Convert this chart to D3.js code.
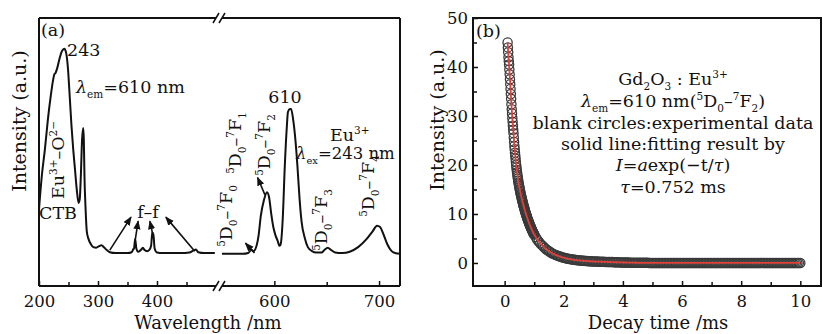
<!DOCTYPE html>
<html>
<head>
<meta charset="utf-8">
<script src="https://cdn.jsdelivr.net/npm/d3@7"></script>
<style>
  body { margin: 0; background: #fff; }
  svg { font-family: 'DejaVu Serif', serif; }
</style>
</head>
<body>
<div id="chart"></div>
<script>
// (a) excitation spectrum, lambda_em = 610 nm
const excWavelength = [200, 205, 210, 215, 220, 224, 226, 228, 231, 235, 239, 243, 246, 249, 252, 255, 258, 261, 264, 267,
  269, 271, 273, 275, 276, 277, 279, 281, 284, 288, 292, 297, 302, 306, 310, 315, 320, 330, 340, 350,
  357, 360, 361, 363, 365, 368, 373, 376, 379, 383, 387, 390, 392, 394, 396, 400, 410, 420, 440, 455,
  462, 466, 470, 480, 490, 498];
const excIntensity = [28.6, 41.6, 51, 62, 71, 77, 79, 79.5, 81.4, 85, 87.7, 88.5, 87, 81.4, 71, 60, 51, 43.5, 36, 31,
  32.3, 41.6, 54.6, 59, 54.6, 41.6, 28.6, 20.4, 17.5, 15.6, 14.5, 14.3, 14.9, 15.2, 14.5, 13.4, 12.6, 12.3, 12.3, 12.3,
  12.6, 13.8, 14, 17.5, 14, 12.8, 13.5, 14.3, 13.4, 13, 13.5, 15, 20, 19, 14, 12.5, 12.3, 12.3, 12.3, 12.5,
  13.3, 13.6, 12.6, 12.3, 12.3, 12.3];

// (a) emission spectrum, lambda_ex = 243 nm
const emWavelength = [550, 560, 570, 575, 578, 580, 583, 585, 587, 590, 593, 595, 597, 599, 601, 603, 605, 606,
  608, 610, 612, 613, 615, 616, 618, 620, 622, 624, 626, 629, 632, 636,
  640, 645, 648, 651, 654, 658, 665, 672, 680, 688, 694, 698, 701, 704, 708, 712, 716, 720];
const emIntensity = [12, 12, 12, 12.3, 13.5, 13, 15, 19, 26, 32, 35, 33, 27, 22, 19, 17, 15, 15.5,
  25, 45, 60, 65, 66, 66, 62, 55, 45, 33, 24, 18, 14.5, 13,
  12.5, 12.5, 13.5, 14.3, 13.5, 12.5, 12.3, 12.8, 14.5, 17.5, 20.5, 22.5, 22, 19.5, 15.5, 13, 12.2, 12];

// (a) axis ticks
const leftMajorTicks = [200, 300, 400];
const leftMinorTicks = [250, 350, 450];
const rightMajorTicks = [600, 700];
const rightMinorTicks = [650];

// (a) arrows [from nm, from I, to nm, to I]
const ffArrows = [[320, 13.4, 356, 25.7], [363, 17, 368, 24.2], [393, 19, 388, 24.2], [464, 13, 415, 25.7]];
const emArrows = [[581, 12.3, 572.4, 16], [591, 34, 584, 40.5]];

// (b) decay curve: 0.10-1.00 ms every 0.01 ms, then 1.05-10.00 ms every 0.05 ms
const decayEarly = [
  45.0, 44.0, 43.0, 42.0, 41.2, 40.5, 39.5, 38.5, 37.5, 36.5,
  35.5, 34.5, 33.5, 32.4, 31.4, 30.5, 29.6, 28.8, 28.0, 27.2,
  26.5, 25.6, 24.7, 23.9, 23.2, 22.5, 21.9, 21.3, 20.6, 20.0,
  19.5, 19.0, 18.5, 18.0, 17.6, 17.2, 16.8, 16.4, 16.1, 15.7,
  15.4, 15.1, 14.8, 14.5, 14.2, 13.9, 13.6, 13.4, 13.1, 12.9,
  12.6, 12.4, 12.2, 11.9, 11.7, 11.5, 11.3, 11.1, 10.8, 10.6,
  10.4, 10.2, 10.0, 9.8, 9.7, 9.5, 9.3, 9.1, 8.9, 8.8,
  8.6, 8.4, 8.3, 8.1, 7.9, 7.8, 7.6, 7.5, 7.4, 7.2,
  7.1, 6.9, 6.8, 6.7, 6.5, 6.4, 6.3, 6.1, 6.0, 5.9,
  5.8];
const decayLate = [
  5.3, 4.8, 4.4, 4.0, 3.7, 3.4, 3.1, 2.8, 2.6, 2.4,
  2.2, 2.0, 1.85, 1.7, 1.6, 1.45, 1.35, 1.25, 1.15, 1.05,
  1.0, 0.9, 0.85, 0.8, 0.75, 0.7, 0.65, 0.6, 0.58, 0.55,
  0.5, 0.48, 0.45, 0.43, 0.4, 0.38, 0.36, 0.35, 0.33, 0.3,
  0.3, 0.28, 0.28, 0.26, 0.25, 0.25, 0.24, 0.22, 0.22, 0.2,
  0.2, 0.18, 0.18, 0.16, 0.15, 0.15, 0.14, 0.12, 0.12, 0.1,
  0.1, 0.1, 0.08, 0.08, 0.07, 0.06, 0.06, 0.05, 0.05, 0.04,
  0.04, 0.03, 0.03, 0.03, 0.02, 0.02, 0.02, 0.01, 0.01, 0.01,
  0, 0, 0, 0, 0, 0, 0, 0, 0, 0,
  0, 0, 0, 0, 0, 0, 0, 0, 0, 0,
  0, 0, 0, 0, 0, 0, 0, 0, 0, 0,
  0, 0, 0, 0, 0, 0, 0, 0, 0, 0,
  0, 0, 0, 0, 0, 0, 0, 0, 0, 0,
  0, 0, 0, 0, 0, 0, 0, 0, 0, 0,
  0, 0, 0, 0, 0, 0, 0, 0, 0, 0,
  0, 0, 0, 0, 0, 0, 0, 0, 0, 0,
  0, 0, 0, 0, 0, 0, 0, 0, 0, 0,
  0, 0, 0, 0, 0, 0, 0, 0, 0, 0];
const decayTime = decayEarly.map((_, i) => +(0.10 + i * 0.01).toFixed(2))
  .concat(decayLate.map((_, i) => +(1.05 + i * 0.05).toFixed(2)));
const decayIntensity = decayEarly.concat(decayLate);

const bMajorX = [0, 2, 4, 6, 8, 10];
const bMinorX = [1, 3, 5, 7, 9];
const bMajorY = [0, 10, 20, 30, 40, 50];
const bMinorY = [5, 15, 25, 35, 45];

const W = 823, H = 334;
const FS = 17.5;
const svg = d3.select('#chart').append('svg')
  .attr('width', W)
  .attr('height', H);

svg.append('defs').append('marker')
  .attr('id', 'head')
  .attr('viewBox', '0 0 10 10')
  .attr('refX', 9).attr('refY', 5)
  .attr('markerWidth', 9).attr('markerHeight', 9)
  .attr('markerUnits', 'userSpaceOnUse')
  .attr('orient', 'auto')
  .append('path')
  .attr('d', 'M0,1 L10,5 L0,9 Z')
  .attr('fill', '#111');

// rich text with sub / superscripts
function rich(sel, parts, fs) {
  let shift = 0;
  parts.forEach(([s, kind]) => {
    const t = sel.append('tspan').text(s);
    let target = 0, size = fs;
    if (kind === 'sub') { target = fs * 0.28; size = fs * 0.6; }
    if (kind === 'sup') { target = -fs * 0.4; size = fs * 0.6; }
    if (kind === 'i') t.attr('font-style', 'italic');
    t.attr('dy', target - shift).attr('font-size', size);
    shift = target;
  });
  return sel;
}

function label(g, x, y, parts, opts = {}) {
  const fs = opts.fs || FS;
  const t = g.append('text')
    .attr('fill', '#111')
    .attr('font-size', fs)
    .attr('text-anchor', opts.anchor || 'start');
  if (opts.rotate) {
    t.attr('transform', `translate(${x},${y}) rotate(-90)`).attr('dy', '0.36em');
  } else {
    t.attr('x', x).attr('y', y);
  }
  if (typeof parts === 'string') t.text(parts);
  else rich(t, parts, fs);
  return t;
}

// ---------------- panel (a) ----------------
const a = svg.append('g');
const aTop = 18, aBottom = 286, aLeft = 39, aRight = 400;
const breakX = 219;

const xL = d3.scaleLinear().domain([200, 500]).range([aLeft, 216]);
const xR = d3.scaleLinear().domain([550, 720]).range([222, aRight]);
const yA = d3.scaleLinear().domain([0, 100]).range([aBottom, aTop]);

const specLine = (xs) => d3.line()
  .x(d => xs(d[0]))
  .y(d => yA(d[1]))
  .curve(d3.curveMonotoneX);

a.append('path')
  .datum(excWavelength.map((w, i) => [w, excIntensity[i]]))
  .attr('fill', 'none')
  .attr('stroke', '#111')
  .attr('stroke-width', 2)
  .attr('stroke-linejoin', 'round')
  .attr('d', specLine(xL));

a.append('path')
  .datum(emWavelength.map((w, i) => [w, emIntensity[i]]))
  .attr('fill', 'none')
  .attr('stroke', '#111')
  .attr('stroke-width', 2)
  .attr('stroke-linejoin', 'round')
  .attr('d', specLine(xR));

// axes with inward ticks
function tickAxis(scale, values, size, withLabels) {
  const ax = d3.axisBottom(scale)
    .tickValues(values)
    .tickSize(-size)
    .tickPadding(9);
  if (!withLabels) ax.tickFormat('');
  const g = a.append('g')
    .attr('transform', `translate(0,${aBottom})`)
    .call(ax);
  g.select('.domain').remove();
  g.selectAll('line').attr('stroke', '#111').attr('stroke-width', 1.5);
  g.selectAll('text').attr('font-family', 'DejaVu Serif').attr('font-size', 16.5).attr('fill', '#111');
  return g;
}
tickAxis(xL, leftMajorTicks, 5, true);
tickAxis(xL, leftMinorTicks, 4, false);
tickAxis(xR, rightMajorTicks, 5, true);
tickAxis(xR, rightMinorTicks, 4, false);

// frame with axis break
const frame = a.append('g').attr('stroke', '#111').attr('stroke-width', 2).attr('fill', 'none');
frame.append('line').attr('x1', aLeft).attr('x2', aLeft).attr('y1', aTop).attr('y2', aBottom);
frame.append('line').attr('x1', aRight).attr('x2', aRight).attr('y1', aTop).attr('y2', aBottom);
[aTop, aBottom].forEach(y => {
  frame.append('line').attr('x1', aLeft).attr('x2', breakX - 3).attr('y1', y).attr('y2', y);
  frame.append('line').attr('x1', breakX + 3).attr('x2', aRight).attr('y1', y).attr('y2', y);
  [-3, 3].forEach(dx => {
    frame.append('line')
      .attr('stroke-width', 1.5)
      .attr('x1', breakX + dx - 3).attr('y1', y + 5)
      .attr('x2', breakX + dx + 3).attr('y2', y - 5);
  });
});

// arrows
ffArrows.forEach(d => {
  a.append('line')
    .attr('x1', xL(d[0])).attr('y1', yA(d[1]))
    .attr('x2', xL(d[2])).attr('y2', yA(d[3]))
    .attr('stroke', '#111').attr('stroke-width', 1.6)
    .attr('marker-end', 'url(#head)');
});
emArrows.forEach(d => {
  a.append('line')
    .attr('x1', xR(d[0])).attr('y1', yA(d[1]))
    .attr('x2', xR(d[2])).attr('y2', yA(d[3]))
    .attr('stroke', '#111').attr('stroke-width', 1.6)
    .attr('marker-end', 'url(#head)');
});

// annotations
label(a, 41, 36, '(a)');
label(a, 67, 56, '243');
label(a, 76, 93, [['λ', 'i'], ['em', 'sub'], ['=610 nm', 'n']]);
label(a, 64, 160, [['Eu', 'n'], ['3+', 'sup'], ['–O', 'n'], ['2−', 'sup']], { rotate: true, anchor: 'middle' });
label(a, 39, 219, 'CTB');
label(a, 148, 218, 'f–f', { anchor: 'middle' });
label(a, 285, 103, '610', { anchor: 'middle' });
label(a, 330, 141, [['Eu', 'n'], ['3+', 'sup']]);
label(a, 296, 159, [['λ', 'i'], ['ex', 'sub'], ['=243 nm', 'n']], { fs: 16.5 });

const trans = (n) => [['5', 'sup'], ['D', 'n'], ['0', 'sub'], ['–', 'n'], ['7', 'sup'], ['F', 'n'], [String(n), 'sub']];
label(a, 232, 216, trans(0), { rotate: true, anchor: 'middle' });
label(a, 241, 143, trans(1), { rotate: true, anchor: 'middle' });
label(a, 270, 145, trans(2), { rotate: true, anchor: 'middle' });
label(a, 327, 220, trans(3), { rotate: true, anchor: 'middle' });
label(a, 374, 186, trans(4), { rotate: true, anchor: 'middle' });

label(a, 19, 121, 'Intensity (a.u.)', { rotate: true, anchor: 'middle', fs: 19 });
label(a, 208, 329, 'Wavelength /nm', { anchor: 'middle', fs: 18 });

// ---------------- panel (b) ----------------
const b = svg.append('g');
const bTop = 18, bBottom = 286, bLeft = 473, bRight = 821;
const xB = d3.scaleLinear().domain([-1.07, 10.7]).range([bLeft, bRight]);
const yB = d3.scaleLinear().domain([-4.7, 50]).range([bBottom, bTop]);

function bAxis(axis, values, size, withLabels, transform) {
  axis.tickValues(values).tickSize(-size).tickPadding(withLabels ? 9 : 0);
  if (!withLabels) axis.tickFormat('');
  const g = b.append('g').attr('transform', transform).call(axis);
  g.select('.domain').remove();
  g.selectAll('line').attr('stroke', '#111').attr('stroke-width', 1.5);
  g.selectAll('text').attr('font-family', 'DejaVu Serif').attr('font-size', 16.5).attr('fill', '#111');
  return g;
}
bAxis(d3.axisBottom(xB), bMajorX, 5, true, `translate(0,${bBottom})`);
bAxis(d3.axisBottom(xB), bMinorX, 4, false, `translate(0,${bBottom})`);
const yAx = bAxis(d3.axisLeft(yB), bMajorY, 5, true, `translate(${bLeft},0)`);
yAx.selectAll('text').attr('x', -5);
bAxis(d3.axisLeft(yB), bMinorY, 4, false, `translate(${bLeft},0)`);

const decay = decayTime.map((t, i) => [t, decayIntensity[i]]);

// blank circles: experimental data
b.append('g')
  .selectAll('circle')
  .data(decay)
  .join('circle')
  .attr('cx', d => xB(d[0]))
  .attr('cy', d => yB(d[1]))
  .attr('r', 4.6)
  .attr('fill', 'none')
  .attr('stroke', '#3a3a3a')
  .attr('stroke-width', 1.3);

// solid line: fitting result
b.append('path')
  .datum(decay)
  .attr('fill', 'none')
  .attr('stroke', '#e0403a')
  .attr('stroke-width', 1.8)
  .attr('d', d3.line().x(d => xB(d[0])).y(d => yB(d[1])).curve(d3.curveMonotoneX));

b.append('rect')
  .attr('x', bLeft).attr('y', bTop)
  .attr('width', bRight - bLeft).attr('height', bBottom - bTop)
  .attr('fill', 'none').attr('stroke', '#111').attr('stroke-width', 2);

label(b, 476, 37, '(b)');
const cx = 673;
label(b, cx, 85, [['Gd', 'n'], ['2', 'sub'], ['O', 'n'], ['3', 'sub'], [' : Eu', 'n'], ['3+', 'sup']], { anchor: 'middle' });
label(b, cx, 107, [['λ', 'i'], ['em', 'sub'], ['=610 nm(', 'n'], ['5', 'sup'], ['D', 'n'], ['0', 'sub'], ['–', 'n'],
  ['7', 'sup'], ['F', 'n'], ['2', 'sub'], [')', 'n']], { anchor: 'middle' });
label(b, cx, 129, 'blank circles:experimental data', { anchor: 'middle' });
label(b, cx, 150, 'solid line:fitting result by', { anchor: 'middle' });
label(b, cx, 171, [['I', 'i'], ['=', 'n'], ['a', 'i'], ['exp(−t/', 'n'], ['τ', 'i'], [')', 'n']], { anchor: 'middle' });
label(b, cx, 193, [['τ', 'i'], ['=0.752 ms', 'n']], { anchor: 'middle' });

label(b, 437, 120, 'Intensity (a.u.)', { rotate: true, anchor: 'middle', fs: 19 });
label(b, 658, 329, 'Decay time /ms', { anchor: 'middle', fs: 18 });
</script>
</body>
</html>
